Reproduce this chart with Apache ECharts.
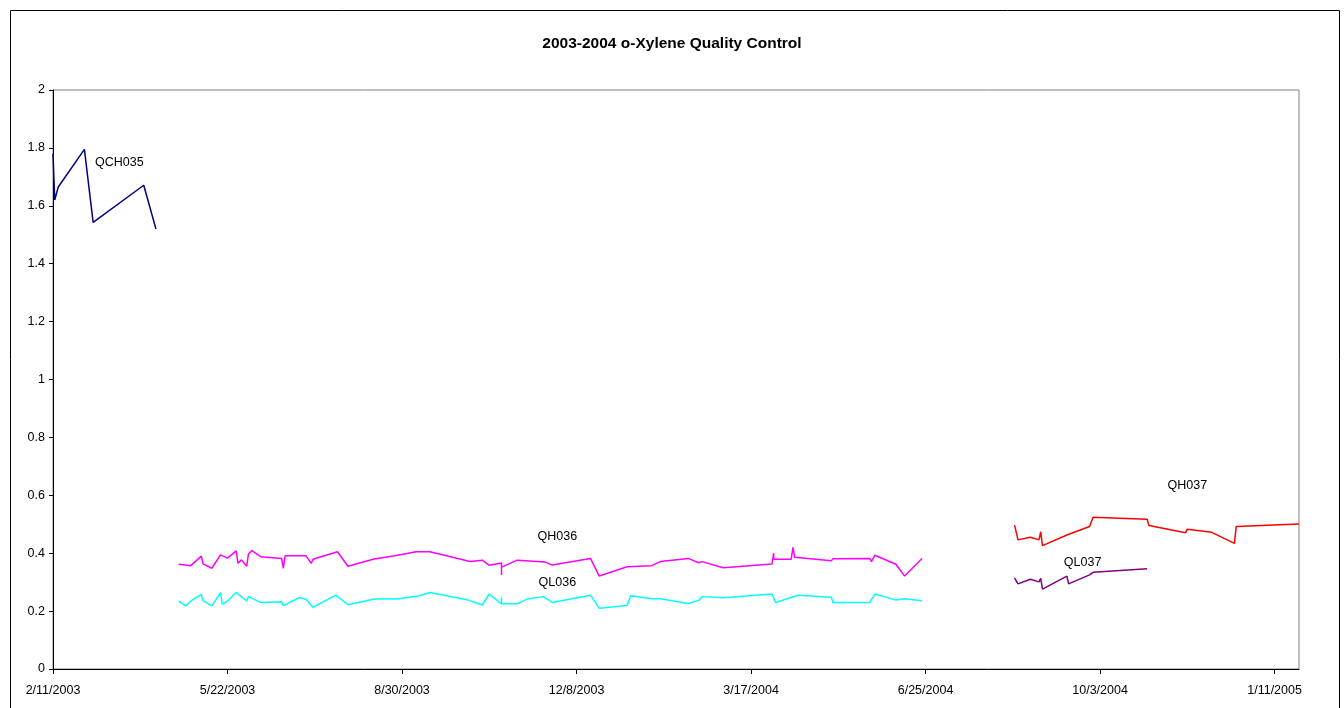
<!DOCTYPE html>
<html>
<head>
<meta charset="utf-8">
<script src="https://cdn.jsdelivr.net/npm/echarts@6/dist/echarts.min.js"></script>
<style>
  html, body { margin: 0; padding: 0; background: #ffffff; }
  #chart { width: 1344px; height: 708px; }
</style>
</head>
<body>
<div id="chart"></div>
<script>
// Axis range and tick spacing (x in days counted from the first date)
const START_DATE = '2003-02-11';
const END_DATE = '2005-01-25';
const X_TICK_DAYS = 100;
const Y_MIN = 0, Y_MAX = 2, Y_STEP = 0.2;

const TITLE = '2003-2004 o-Xylene Quality Control';

// Quality-control results: [date, concentration]
const QCH035 = [
  ['2003-02-11', 1.78], ['2003-02-12', 1.62], ['2003-02-14', 1.665], ['2003-03-01', 1.795],
  ['2003-03-06', 1.543], ['2003-04-04', 1.671], ['2003-04-11', 1.52]
];

const QH036 = [
  ['2003-04-24', 0.362], ['2003-05-01', 0.357], ['2003-05-07', 0.390], ['2003-05-08', 0.363],
  ['2003-05-13', 0.348], ['2003-05-18', 0.394], ['2003-05-22', 0.383], ['2003-05-27', 0.408],
  ['2003-05-28', 0.365], ['2003-05-30', 0.377], ['2003-06-02', 0.355], ['2003-06-03', 0.397],
  ['2003-06-05', 0.409], ['2003-06-10', 0.388], ['2003-06-22', 0.382], ['2003-06-23', 0.348],
  ['2003-06-24', 0.391], ['2003-07-06', 0.391], ['2003-07-09', 0.365], ['2003-07-10', 0.379],
  ['2003-07-24', 0.405], ['2003-07-30', 0.355], ['2003-08-14', 0.380], ['2003-08-26', 0.391],
  ['2003-09-07', 0.405], ['2003-09-15', 0.405], ['2003-10-08', 0.371], ['2003-10-15', 0.376],
  ['2003-10-19', 0.358], ['2003-10-26', 0.366], ['2003-10-26', 0.325], ['2003-10-26', 0.352],
  ['2003-11-04', 0.376], ['2003-11-20', 0.370], ['2003-11-24', 0.359], ['2003-12-16', 0.382],
  ['2003-12-21', 0.321], ['2004-01-06', 0.353], ['2004-01-20', 0.357], ['2004-01-25', 0.371],
  ['2004-02-10', 0.382], ['2004-02-16', 0.367], ['2004-02-18', 0.371], ['2004-03-01', 0.350],
  ['2004-03-29', 0.363], ['2004-03-30', 0.400], ['2004-03-30', 0.379], ['2004-04-09', 0.379],
  ['2004-04-10', 0.420], ['2004-04-11', 0.386], ['2004-05-02', 0.374], ['2004-05-03', 0.381],
  ['2004-05-24', 0.382], ['2004-05-25', 0.371], ['2004-05-27', 0.393], ['2004-06-08', 0.362],
  ['2004-06-13', 0.321], ['2004-06-23', 0.382]
];

const QL036 = [
  ['2003-04-24', 0.235], ['2003-04-28', 0.218], ['2003-05-01', 0.235], ['2003-05-07', 0.258],
  ['2003-05-08', 0.235], ['2003-05-13', 0.218], ['2003-05-18', 0.264], ['2003-05-19', 0.223],
  ['2003-05-22', 0.235], ['2003-05-27', 0.264], ['2003-06-02', 0.235], ['2003-06-03', 0.250],
  ['2003-06-10', 0.230], ['2003-06-22', 0.232], ['2003-06-23', 0.219], ['2003-07-02', 0.246],
  ['2003-07-06', 0.241], ['2003-07-10', 0.213], ['2003-07-23', 0.255], ['2003-07-30', 0.222],
  ['2003-08-14', 0.242], ['2003-08-27', 0.242], ['2003-09-09', 0.253], ['2003-09-15', 0.264],
  ['2003-10-07', 0.238], ['2003-10-15', 0.221], ['2003-10-19', 0.259], ['2003-10-26', 0.225],
  ['2003-10-26', 0.248], ['2003-10-26', 0.225], ['2003-11-04', 0.225], ['2003-11-10', 0.242],
  ['2003-11-19', 0.250], ['2003-11-24', 0.230], ['2003-12-16', 0.255], ['2003-12-21', 0.210],
  ['2004-01-06', 0.219], ['2004-01-08', 0.253], ['2004-01-20', 0.243], ['2004-01-25', 0.243],
  ['2004-02-10', 0.226], ['2004-02-16', 0.237], ['2004-02-18', 0.250], ['2004-03-01', 0.246],
  ['2004-03-29', 0.259], ['2004-03-31', 0.230], ['2004-04-13', 0.255], ['2004-05-02', 0.248],
  ['2004-05-03', 0.230], ['2004-05-24', 0.230], ['2004-05-27', 0.259], ['2004-06-08', 0.238],
  ['2004-06-13', 0.243], ['2004-06-23', 0.236]
];

const QH037 = [
  ['2004-08-15', 0.497], ['2004-08-17', 0.446], ['2004-08-24', 0.455], ['2004-08-29', 0.446],
  ['2004-08-30', 0.474], ['2004-08-31', 0.426], ['2004-09-14', 0.463], ['2004-09-27', 0.492],
  ['2004-09-29', 0.524], ['2004-10-30', 0.517], ['2004-10-31', 0.496], ['2004-11-21', 0.471],
  ['2004-11-22', 0.483], ['2004-12-06', 0.472], ['2004-12-19', 0.434], ['2004-12-20', 0.492],
  ['2005-01-25', 0.501]
];

const QL037 = [
  ['2004-08-15', 0.315], ['2004-08-17', 0.294], ['2004-08-24', 0.310], ['2004-08-29', 0.301],
  ['2004-08-30', 0.313], ['2004-08-31', 0.276], ['2004-09-14', 0.321], ['2004-09-15', 0.294],
  ['2004-09-27', 0.325], ['2004-09-29', 0.334], ['2004-10-30', 0.346]
];

// Where each series name is written, in data coordinates
const NAME_ANCHORS = {
  QCH035: ['2003-03-21', 1.748],
  QH036: ['2003-11-27', 0.456],
  QL036: ['2003-11-27', 0.300],
  QH037: ['2004-11-22', 0.632],
  QL037: ['2004-09-23', 0.366]
};

const MS_PER_DAY = 86400000;
function toUTC(s) {
  const p = s.split('-').map(Number);
  return Date.UTC(p[0], p[1] - 1, p[2]);
}
const START_UTC = toUTC(START_DATE);
function dayOf(s) { return Math.round((toUTC(s) - START_UTC) / MS_PER_DAY); }
function dayLabel(n) {
  const t = new Date(START_UTC + n * MS_PER_DAY);
  return (t.getUTCMonth() + 1) + '/' + t.getUTCDate() + '/' + t.getUTCFullYear();
}

const FONT = '"Liberation Sans", Arial, sans-serif';
const TEXT_SIZE = 12.5;

function makeSeries(name, rows, color) {
  const a = NAME_ANCHORS[name];
  return {
    name: name,
    type: 'line',
    data: rows.map(r => [dayOf(r[0]), r[1]]),
    showSymbol: false,
    symbol: 'none',
    lineStyle: { color: color, width: 1.5 },
    itemStyle: { color: color },
    silent: true,
    markPoint: {
      symbol: 'circle',
      symbolSize: 0,
      silent: true,
      data: [{ coord: [dayOf(a[0]), a[1]], value: name }],
      label: {
        show: true,
        position: 'inside',
        formatter: name,
        color: '#000000',
        fontFamily: FONT,
        fontSize: TEXT_SIZE
      }
    }
  };
}

const chart = echarts.init(document.getElementById('chart'), null, { renderer: 'canvas' });

chart.setOption({
  animation: false,
  backgroundColor: '#ffffff',
  title: {
    text: TITLE,
    left: 'center',
    top: 31,
    textStyle: { fontFamily: FONT, fontSize: 15.5, fontWeight: 'bold', color: '#000000' }
  },
  grid: {
    left: 53, top: 90, right: 45, bottom: 39,
    show: true,
    borderColor: '#808080',
    borderWidth: 1,
    backgroundColor: '#ffffff'
  },
  xAxis: {
    type: 'value',
    min: 0,
    max: dayOf(END_DATE),
    interval: X_TICK_DAYS,
    splitLine: { show: false },
    axisLine: { onZero: false, lineStyle: { color: '#000000', width: 1 } },
    axisTick: { show: true, inside: false, length: 5, lineStyle: { color: '#000000' } },
    axisLabel: {
      showMaxLabel: false,
      margin: 15,
      color: '#000000',
      fontFamily: FONT,
      fontSize: TEXT_SIZE,
      formatter: v => (v % X_TICK_DAYS === 0 ? dayLabel(v) : '')
    }
  },
  yAxis: {
    type: 'value',
    min: Y_MIN,
    max: Y_MAX,
    interval: Y_STEP,
    splitLine: { show: false },
    axisLine: { show: true, lineStyle: { color: '#000000', width: 1 } },
    axisTick: { show: true, inside: false, length: 4, lineStyle: { color: '#000000' } },
    axisLabel: {
      margin: 8,
      color: '#000000',
      fontFamily: FONT,
      fontSize: TEXT_SIZE,
      formatter: v => String(+v.toFixed(1))
    }
  },
  graphic: [{
    type: 'rect',
    silent: true,
    shape: { x: 10.5, y: 10.5, width: 1329, height: 720 },
    style: { fill: 'none', stroke: '#000000', lineWidth: 1 }
  }],
  series: [
    makeSeries('QCH035', QCH035, '#000080'),
    makeSeries('QH036', QH036, '#FF00FF'),
    makeSeries('QL036', QL036, '#00FFFF'),
    makeSeries('QH037', QH037, '#FF0000'),
    makeSeries('QL037', QL037, '#800080')
  ]
});
</script>
</body>
</html>
